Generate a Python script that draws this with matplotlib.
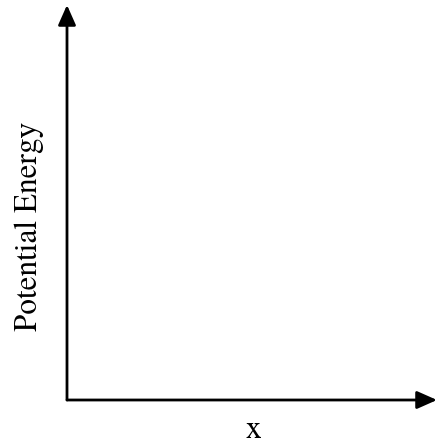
import matplotlib
matplotlib.use("Agg")
import matplotlib.pyplot as plt
from matplotlib.patches import ArrowStyle

x_label = "x"
y_label = "Potential Energy"

W, H = 438, 445
fig = plt.figure(figsize=(W / 100, H / 100), dpi=100)
left, right, bottom, top = 67, 437, 400, 5
ax = fig.add_axes([left / W, (H - bottom) / H, (right - left) / W, (bottom - top) / H])
ax.set_xlim(0, 1)
ax.set_ylim(0, 1)
ax.axis("off")

style = ArrowStyle("-|>", head_length=1.22, head_width=0.54)
props = dict(arrowstyle=style, mutation_scale=10, lw=2, color="black",
             shrinkA=0, shrinkB=0)
ax.annotate("", xy=(1, 0), xytext=(0, 0), xycoords="axes fraction",
            arrowprops=props, annotation_clip=False)
ax.annotate("", xy=(0, 1), xytext=(0, 0), xycoords="axes fraction",
            arrowprops=props, annotation_clip=False)

font = dict(family=["TeX Gyre Termes", "FreeSerif", "DejaVu Serif"], size=22.5)
ax.text((253.5 - left) / (right - left), (bottom - 430) / (bottom - top), x_label,
        ha="center", va="center", transform=ax.transAxes, **font)
ax.text((29 - left) / (right - left), (bottom - 226) / (bottom - top), y_label,
        ha="center", va="center", rotation=90, transform=ax.transAxes, **font)

fig.savefig("out.png", dpi=100)
